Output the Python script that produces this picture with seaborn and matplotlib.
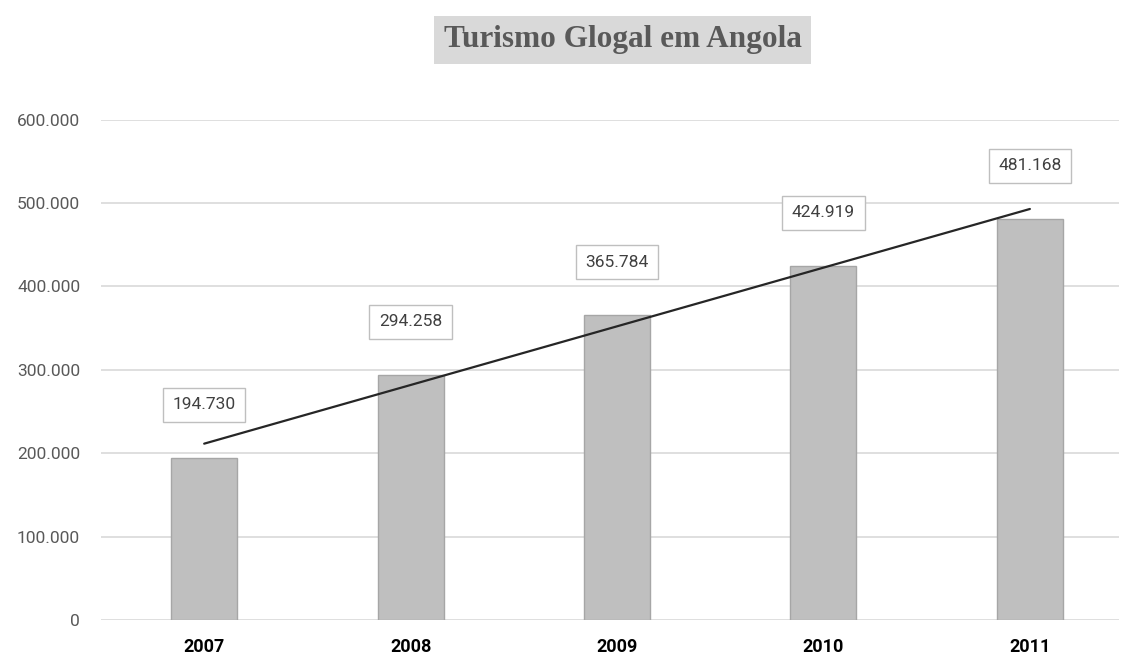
import numpy as np
import pandas as pd
import matplotlib
matplotlib.use("Agg")
import matplotlib.pyplot as plt
from matplotlib.ticker import FuncFormatter
import seaborn as sns

# Data
years = ["2007", "2008", "2009", "2010", "2011"]
turistas = [194730, 294258, 365784, 424919, 481168]
y_ticks = [0, 100000, 200000, 300000, 400000, 500000, 600000]

df = pd.DataFrame({"ano": years, "turistas": turistas})

sns.set_style("white")
narrow = ["Roboto", "DejaVu Sans"]
plt.rcParams["font.family"] = narrow


def fmt_pt(v):
    return f"{int(round(v)):,}".replace(",", ".")


fig = plt.figure(figsize=(11.22, 6.61), dpi=100)
ax = fig.add_axes([0.09, 0.062, 0.907, 0.757])

sns.barplot(data=df, x="ano", y="turistas", color="#bfbfbf", width=0.32,
            edgecolor="#a6a6a6", linewidth=1, saturation=1, ax=ax, zorder=2)

# linear trendline
xs = np.arange(len(years))
coef = np.polyfit(xs, turistas, 1)
ax.plot(xs, np.polyval(coef, xs), color="#262626", lw=1.6, zorder=3)

# data labels in boxes
for i, v in enumerate(turistas):
    ax.annotate(fmt_pt(v), (i, v), xytext=(0, 38), textcoords="offset points",
                ha="center", va="center", fontsize=12.5, color="#404040",
                family=narrow,
                bbox=dict(boxstyle="square,pad=0.55", fc="white", ec="#bfbfbf", lw=1))

ax.set_ylim(0, 600000)
ax.set_xlim(-0.5, 4.43)
ax.set_yticks(y_ticks)
ax.yaxis.set_major_formatter(FuncFormatter(lambda v, p: fmt_pt(v)))
ax.yaxis.grid(True, color="#d9d9d9", lw=1.2, zorder=0)
ax.set_axisbelow(True)
ax.set_xlabel("")
ax.set_ylabel("")
for s in ax.spines.values():
    s.set_visible(False)
ax.tick_params(axis="both", length=0)
ax.tick_params(axis="y", pad=15, labelsize=12.5, labelcolor="#595959")
ax.tick_params(axis="x", pad=13, labelsize=13, labelcolor="#000000")
for t in ax.get_xticklabels():
    t.set_fontweight("bold")

fig.text(0.555, 0.94, "Turismo Glogal em Angola", ha="center", va="center",
         fontsize=22.5, fontweight="bold", color="#595959",
         family=["Liberation Serif", "DejaVu Serif"],
         bbox=dict(boxstyle="square,pad=0.3", fc="#d9d9d9", ec="none"))

fig.savefig("out.png", dpi=100)
